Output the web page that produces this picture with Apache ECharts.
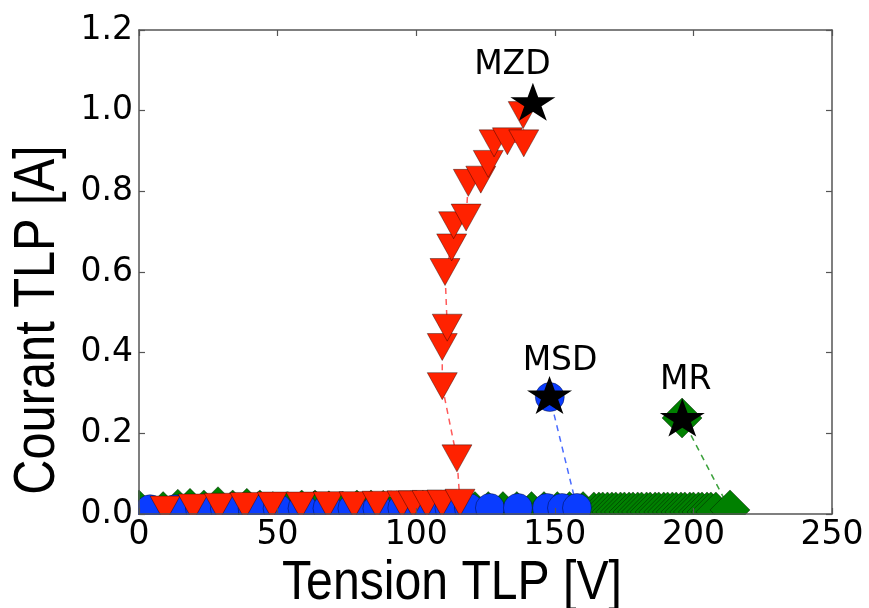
<!DOCTYPE html>
<html><head><meta charset="utf-8">
<script src="https://cdn.jsdelivr.net/npm/echarts@6/dist/echarts.min.js"></script>
<style>html,body{margin:0;padding:0;background:#fff}#c{width:869px;height:608px}</style>
</head><body><div id="c"></div>
<script>
// MZD (red, down triangles)
const redX = [9.4, 19.5, 28.9, 38.2, 48.0, 58.4, 68.2, 77.6, 85.9, 94.9, 98.9, 103.9, 109.3, 115.8,
              114.7, 109.4, 109.4, 111.2, 110.4, 112.8, 113.5, 118.0, 118.8, 123.3, 126.0, 128.1, 132.9, 138.8, 138.6];
const redY = [0.011, 0.016, 0.018, 0.020, 0.021, 0.021, 0.022, 0.022, 0.023, 0.024, 0.024, 0.025, 0.026, 0.028,
              0.138, 0.317, 0.414, 0.462, 0.600, 0.661, 0.716, 0.735, 0.821, 0.829, 0.868, 0.919, 0.924, 0.919, 0.989];
// MSD (blue, circles)
const blueX = [4, 13, 22, 31, 41, 50, 59, 68, 77, 86, 95, 104, 112, 119, 126.6, 136.7, 147.2, 152.6, 158.0, 148.2];
const blueY = [0.012, 0.012, 0.013, 0.013, 0.013, 0.014, 0.014, 0.014, 0.014, 0.014, 0.015, 0.015, 0.015, 0.015,
               0.015, 0.015, 0.015, 0.015, 0.015, 0.290];
// MR (green, diamonds)
const greenX = [0, 8.7, 14.0, 18.4, 23.4, 28.5, 33.8, 38.9, 43.6, 48.3, 53.7, 58.7, 63.5, 68.5, 73.6, 78.6, 83.7,
                88.1, 93.0, 97.9, 102.4, 107.1, 111.7, 116.2, 121.2, 126.0, 131.3, 136.3, 141.6, 146.1, 150.9, 155.3,
                160.2, 164.1, 165.9, 167.3, 169.0, 170.6, 172.0, 173.7, 175.1, 176.8, 178.2, 179.9, 181.3, 183.1,
                184.4, 186.2, 187.5, 189.3, 190.7, 192.4, 193.8, 195.5, 196.9, 198.7, 200.0, 201.8, 203.1, 204.9,
                206.3, 208.1, 213.2, 195.9];
const greenY = [0.010, 0.006, 0.012, 0.014, 0.010, 0.018, 0.010, 0.014, 0.010, 0.006, 0.006, 0.010, 0.010, 0.008,
                0.006, 0.010, 0.010, 0.009, 0.008, 0.008, 0.009, 0.008, 0.008, 0.008, 0.006, 0.006, 0.006, 0.006,
                0.006, 0.006, 0.006, 0.006, 0.006, 0.005, 0.005, 0.005, 0.005, 0.005, 0.005, 0.005, 0.005, 0.005,
                0.005, 0.005, 0.005, 0.005, 0.005, 0.005, 0.005, 0.005, 0.005, 0.005, 0.005, 0.005, 0.005, 0.005,
                0.005, 0.005, 0.005, 0.005, 0.005, 0.005, 0.010, 0.238];
// stars and annotations
const starX = [142.1, 148.1, 196.0];
const starY = [1.022, 0.295, 0.239];
const annoText = ['MZD', 'MSD', 'MR'];
const annoX = [134.7, 151.9, 197.2];
const annoY = [1.113, 0.379, 0.331];
// axes
const xMin = 0, xMax = 250, xStep = 50;
const yMin = 0, yMax = 1.2, yStep = 0.2;
const xTitle = 'Tension TLP [V]';
const yTitle = 'Courant TLP [A]';

const zip = (a, b) => a.map((v, i) => [v, b[i]]);
const STAR = 'path://M50 0 L61.23 34.55 L97.55 34.55 L68.17 55.9 L79.39 90.45 L50 69.1 L20.61 90.45 L31.83 55.9 L2.45 34.55 L38.77 34.55 Z';
const titleFont = "'Liberation Sans', Arial, sans-serif";
const tickFont = "'DejaVu Sans', sans-serif";
const spine = {color: '#555', width: 1.5};

function lineSeries(xs, ys, color, lineColor, symbol, size, rotate) {
  return {
    type: 'line', data: zip(xs, ys), symbol: symbol, symbolSize: size, symbolRotate: rotate || 0,
    showSymbol: true, showAllSymbol: true, clip: false, z: 2, animation: false,
    itemStyle: {color: color, opacity: 1, borderColor: 'rgba(0,0,0,0.55)', borderWidth: 0.7},
    lineStyle: {color: lineColor, width: 1.5, type: [6, 5]},
    emphasis: {disabled: true}
  };
}
function xAx(pos, main) {
  return {
    type: 'value', position: pos, min: xMin, max: xMax, interval: xStep, z: 10,
    axisLine: {show: true, onZero: false, lineStyle: spine},
    axisTick: {show: true, inside: true, length: 6, lineStyle: {color: '#555', width: 1.2}},
    axisLabel: main ? {show: true, margin: 5, fontSize: 33, fontFamily: tickFont, color: '#000'} : {show: false},
    splitLine: {show: false}
  };
}
function yAx(pos, main) {
  return {
    type: 'value', position: pos, min: yMin, max: yMax, interval: yStep, z: 10,
    axisLine: {show: true, onZero: false, lineStyle: spine},
    axisTick: {show: true, inside: true, length: 6, lineStyle: {color: '#555', width: 1.2}},
    axisLabel: main ? {show: true, margin: 6, fontSize: 33, fontFamily: tickFont, color: '#000',
                       formatter: v => v.toFixed(1)} : {show: false},
    splitLine: {show: false}
  };
}

const chart = echarts.init(document.getElementById('c'), null, {renderer: 'canvas'});
chart.setOption({
  animation: false,
  backgroundColor: '#fff',
  grid: {left: 139, right: 37, top: 30, bottom: 94, containLabel: false, outerBoundsMode: 'none'},
  xAxis: [xAx('bottom', true), xAx('top', false)],
  yAxis: [yAx('left', true), yAx('right', false)],
  graphic: [
    {type: 'rect', z: 5, silent: true, shape: {x: 0, y: 515, width: 869, height: 93}, style: {fill: '#fff'}},
    {type: 'rect', z: 5, silent: true, shape: {x: 0, y: 0, width: 138, height: 608}, style: {fill: '#fff'}},
    {type: 'text', z: 20, silent: true, x: 452, y: 584, scaleX: 0.86,
     style: {text: xTitle, font: '56px ' + titleFont, fill: '#000', textAlign: 'center', textVerticalAlign: 'middle'}},
    {type: 'text', z: 20, silent: true, x: 38, y: 320, rotation: Math.PI / 2, scaleX: 0.84,
     style: {text: yTitle, font: '58px ' + titleFont, fill: '#000', textAlign: 'center', textVerticalAlign: 'middle'}}
  ],
  series: [
    lineSeries(greenX, greenY, '#008000', '#3aa03a', 'diamond', [40, 40], 0),
    lineSeries(blueX, blueY, '#0a3cff', '#4a6cff', 'circle', 29, 0),
    lineSeries(redX, redY, '#ff2200', '#ff5a5a', 'triangle', [30, 27], 180),
    {
      type: 'scatter', data: zip(starX, starY), symbol: STAR, symbolSize: [45, 38], z: 3,
      itemStyle: {color: '#000', opacity: 1}, emphasis: {disabled: true}, animation: false
    },
    {
      type: 'scatter', z: 4, symbolSize: 0, animation: false, emphasis: {disabled: true},
      itemStyle: {opacity: 1},
      data: annoText.map((t, i) => ({name: t, value: [annoX[i], annoY[i]]})),
      label: {show: true, position: 'inside', formatter: '{b}', fontSize: 33, fontFamily: tickFont,
              color: '#000', opacity: 1, textBorderWidth: 0}
    }
  ]
});
</script></body></html>
